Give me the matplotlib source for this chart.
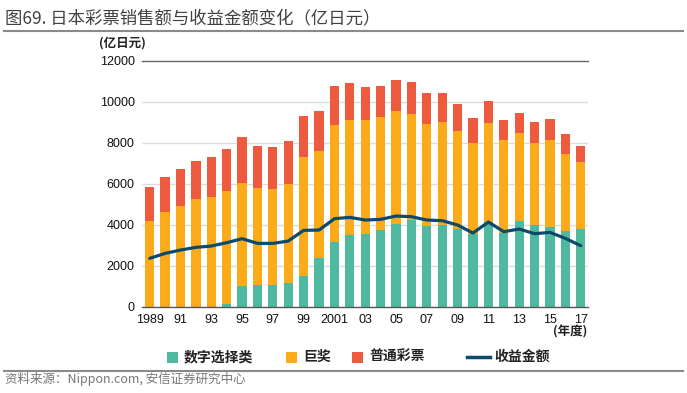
import matplotlib
matplotlib.use("Agg")
import matplotlib.pyplot as plt
from matplotlib.patches import Rectangle
from matplotlib.lines import Line2D
import numpy as np

plt.rcParams['font.family'] = ['Liberation Sans', 'Noto Sans CJK SC', 'DejaVu Sans']

years = list(range(1989, 2018))
tick_labels = ['1989', '91', '93', '95', '97', '99', '2001', '03', '05', '07',
               '09', '11', '13', '15', '17']

# 数字选择类
numbers = [0, 0, 0, 0, 0, 114, 1024, 1057, 1057, 1171, 1512, 2358, 3154, 3480,
           3561, 3740, 4049, 4228, 3935, 3984, 3789, 3545, 4114, 3610, 4195,
           3967, 3870, 3691, 3789]
# 巨奖
jumbo = [4179, 4602, 4911, 5236, 5350, 5528, 5008, 4748, 4699, 4813, 5772, 5252,
         5691, 5642, 5561, 5512, 5496, 5154, 4975, 5008, 4780, 4422, 4845, 4536,
         4276, 4033, 4260, 3740, 3252]
# 普通彩票
regular = [1642, 1723, 1789, 1886, 1935, 2033, 2244, 2049, 2033, 2097, 2000, 1935,
           1903, 1805, 1577, 1496, 1512, 1561, 1529, 1431, 1317, 1220, 1090, 976,
           976, 1024, 1008, 1008, 813]
# 收益金额
profit = [2358, 2600, 2764, 2894, 2960, 3122, 3317, 3089, 3089, 3203, 3724, 3740,
          4293, 4358, 4228, 4260, 4423, 4390, 4228, 4195, 3984, 3593, 4130, 3659,
          3789, 3561, 3626, 3333, 2976]

C_GREEN = '#4fb99f'
C_ORANGE = '#fbab19'
C_RED = '#ee5a3d'
C_LINE = '#0c4a6c'

W, H = 687, 393
fig = plt.figure(figsize=(W / 100, H / 100), dpi=100)

def fx(px):
    return px / W

def fy(py):
    return 1 - py / H

ax_l, ax_r, ax_t, ax_b = 141.7, 588.0, 60.7, 306.7
ax = fig.add_axes([fx(ax_l), fy(ax_b), fx(ax_r - ax_l), (ax_b - ax_t) / H])

x = np.arange(len(years))
numbers_a = np.array(numbers)
jumbo_a = np.array(jumbo)
regular_a = np.array(regular)
bw = 0.6
ax.bar(x, numbers_a, bw, color=C_GREEN, zorder=2)
ax.bar(x, jumbo_a, bw, bottom=numbers_a, color=C_ORANGE, zorder=2)
ax.bar(x, regular_a, bw, bottom=numbers_a + jumbo_a, color=C_RED, zorder=2)
ax.plot(x, profit, color=C_LINE, lw=2.3, solid_joinstyle='round',
        solid_capstyle='round', zorder=3)

ax.set_xlim(-0.52, 28.47)
ax.set_ylim(0, 12000)
ax.set_yticks(range(0, 12001, 2000))
ax.set_yticklabels([str(v) for v in range(0, 12001, 2000)])
ax.set_xticks(x[::2])
ax.set_xticklabels(tick_labels)
ax.tick_params(axis='both', length=0, labelsize=9, colors='#111111')
ax.tick_params(axis='y', pad=5)
ax.tick_params(axis='x', pad=5)
for v in range(2000, 12000, 2000):
    ax.axhline(v, color='#dcdcdc', lw=1, zorder=1)
ax.axhline(12000, color='#666666', lw=1, zorder=1, clip_on=False)
for s in ['top', 'right', 'left']:
    ax.spines[s].set_visible(False)
ax.spines['bottom'].set_color('#555555')
ax.spines['bottom'].set_linewidth(1)
ax.spines['bottom'].set_zorder(4)

cjk = ['Noto Sans CJK SC', 'DejaVu Sans']

# title and rules
fig.text(fx(5), fy(18), '图69. 日本彩票销售额与收益金额变化（亿日元）',
         family=cjk, fontsize=12.5, color='#404040', ha='left', va='center')
fig.add_artist(Line2D([fx(4), fx(683)], [fy(31), fy(31)], color='#8a8a8a', lw=1.5))
fig.add_artist(Line2D([fx(4), fx(683)], [fy(371), fy(371)], color='#8a8a8a', lw=1.5))

fig.text(fx(99), fy(43), '(亿日元)', family=cjk, fontsize=9, weight='bold',
         color='#222222', ha='left', va='center')
fig.text(fx(587), fy(332), '(年度)', family=cjk, fontsize=9, weight='bold',
         color='#222222', ha='right', va='center')

# legend
ly = 357
sq = 11
for x0, col, lab in [(167, C_GREEN, '数字选择类'), (286, C_ORANGE, '巨奖'),
                     (352, C_RED, '普通彩票')]:
    fig.add_artist(Rectangle((fx(x0), fy(ly + sq / 2)), fx(sq), sq / H,
                             facecolor=col, edgecolor='none'))
    fig.text(fx(x0 + sq + 6), fy(ly), lab, family=cjk, fontsize=10, weight='bold',
             color='#222222', ha='left', va='center')
fig.add_artist(Line2D([fx(467), fx(490)], [fy(ly), fy(ly)], color=C_LINE, lw=2.5))
fig.text(fx(494), fy(ly), '收益金额', family=cjk, fontsize=10, weight='bold',
         color='#222222', ha='left', va='center')

fig.text(fx(5), fy(379), '资料来源：Nippon.com, 安信证券研究中心', family=cjk,
         fontsize=9, color='#777777', ha='left', va='center')

fig.savefig('out.png', dpi=100)
